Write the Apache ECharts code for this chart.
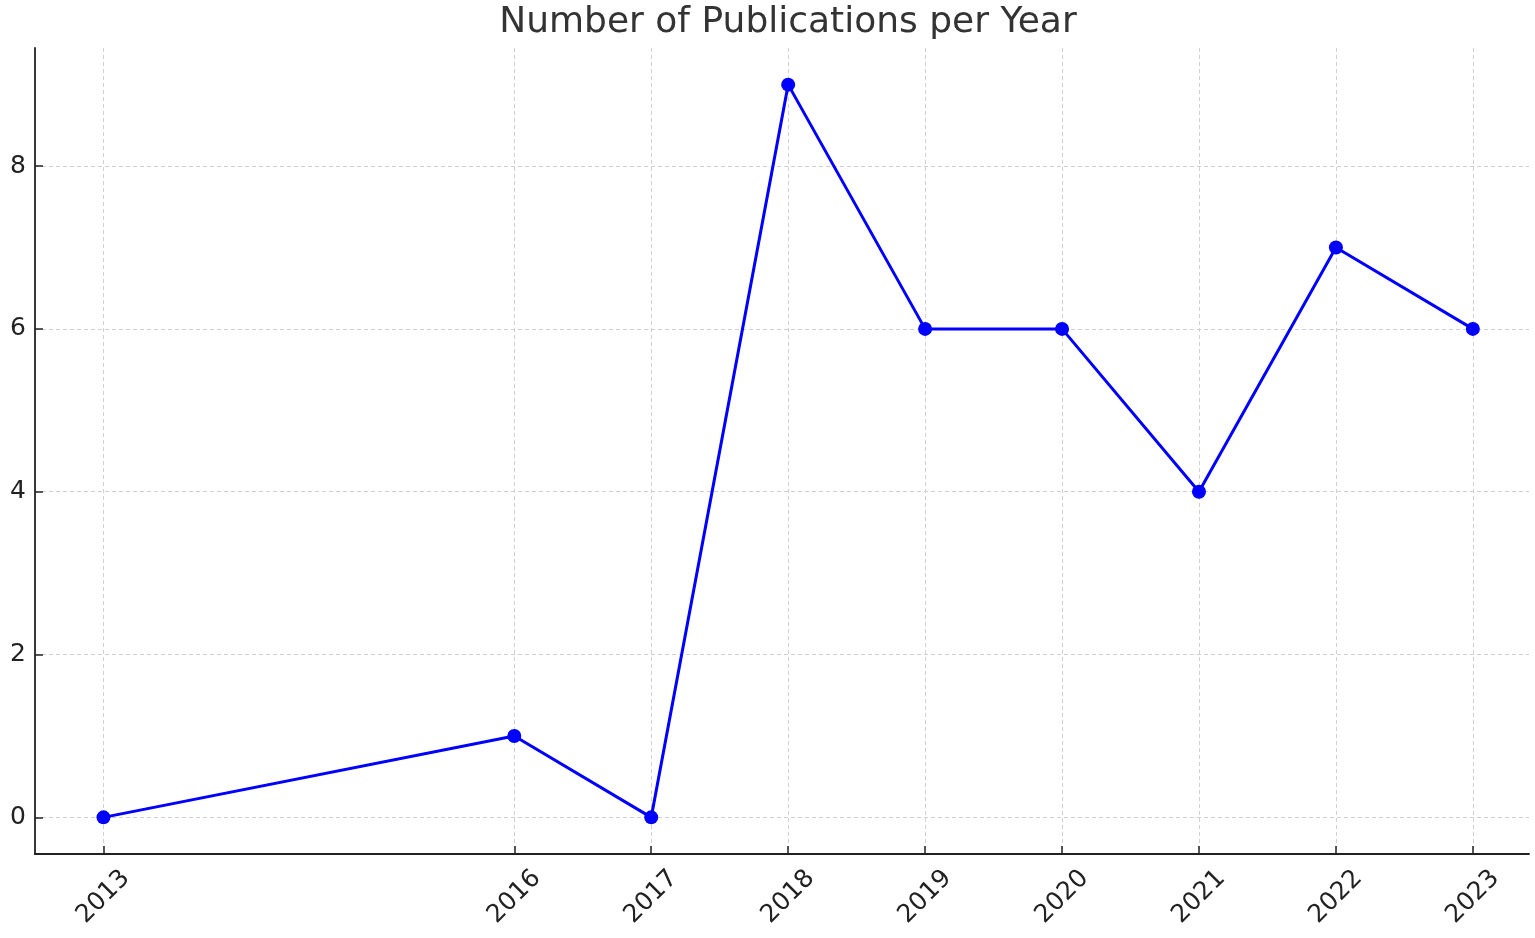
<!DOCTYPE html>
<html>
<head>
<meta charset="utf-8">
<script src="https://cdn.jsdelivr.net/npm/echarts@6/dist/echarts.min.js"></script>
<style>html,body{margin:0;padding:0;background:#fff}#c{width:1535px;height:938px}</style>
</head>
<body>
<div id="c"></div>
<script>
const years = [2013, 2016, 2017, 2018, 2019, 2020, 2021, 2022, 2023];
const publications = [0, 1, 0, 9, 6, 6, 4, 7, 6];
const yTicks = [0, 2, 4, 6, 8];
const titleText = 'Number of Publications per Year';

const chart = echarts.init(document.getElementById('c'));
const font = 'DejaVu Sans';
chart.setOption({
  animation: false,
  backgroundColor: '#fff',
  title: {
    text: titleText,
    left: 783, top: 0, textAlign: 'center',
    textStyle: {fontFamily: font, fontSize: 36, fontWeight: 'normal', color: '#333'}
  },
  grid: {left: 35, right: 6, top: 48, bottom: 84, containLabel: false},
  xAxis: {
    type: 'value', min: 2012.5, max: 2023.41,
    axisLine: {show: true, onZero: false, lineStyle: {color: '#222', width: 1.8}},
    axisTick: {show: true, inside: true, length: 8, customValues: years, lineStyle: {color: '#222', width: 1.5}},
    axisLabel: {customValues: years, rotate: 45, align: 'center', verticalAlign: 'middle', margin: 43,
      fontFamily: font, fontSize: 25, color: '#222', formatter: v => String(v)},
    splitLine: {show: true, lineStyle: {color: '#d0d0d0', type: [4, 3], width: 1}}
  },
  yAxis: {
    type: 'value', min: -0.45, max: 9.45,
    axisLine: {show: true, onZero: false, lineStyle: {color: '#222', width: 1.8}},
    axisTick: {show: true, inside: true, length: 8, customValues: yTicks, lineStyle: {color: '#222', width: 1.5}},
    axisLabel: {customValues: yTicks, margin: 9, fontFamily: font, fontSize: 25, color: '#222'},
    splitLine: {show: true, lineStyle: {color: '#d0d0d0', type: [4, 3], width: 1}}
  },
  series: [{
    type: 'line',
    data: years.map((y, i) => [y, publications[i]]),
    symbol: 'circle', symbolSize: 14,
    lineStyle: {color: '#0000ff', width: 3},
    itemStyle: {color: '#0000ff'}
  }]
});
</script>
</body>
</html>
